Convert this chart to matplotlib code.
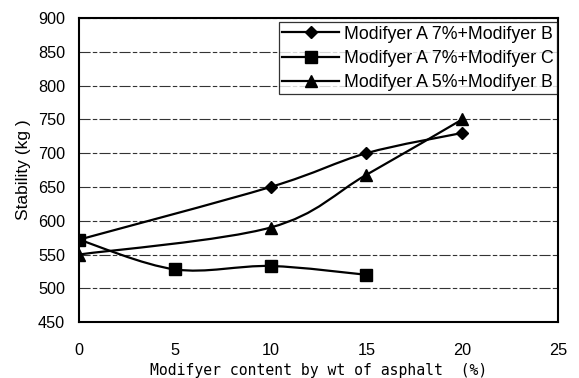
import numpy as np
import matplotlib.pyplot as plt
from matplotlib.path import Path
from matplotlib.patches import PathPatch

plt.rcParams['font.family'] = ['Liberation Sans', 'DejaVu Sans']

# values
x_b7 = [0, 10, 15, 20]
y_b7 = [572, 650, 700, 730]
x_c7 = [0, 5, 10, 15]
y_c7 = [572, 528, 533, 520]
x_b5 = [0, 10, 15, 20]
y_b5 = [550, 590, 668, 750]
labels = ['Modifyer A 7%+Modifyer B', 'Modifyer A 7%+Modifyer C', 'Modifyer A 5%+Modifyer B']
markers = ['D', 's', '^']
y_ticks = list(range(450, 901, 50))
x_ticks = list(range(0, 26, 5))


def smooth_path(xs, ys):
    # Excel-style smoothed line: cubic Bezier through each point
    p = np.column_stack([xs, ys]).astype(float)
    verts = [p[0]]
    codes = [Path.MOVETO]
    n = len(p)
    for i in range(n - 1):
        p0 = p[i - 1] if i > 0 else p[i]
        p3 = p[i + 2] if i + 2 < n else p[i + 1]
        c1 = p[i] + (p[i + 1] - p0) / 6
        c2 = p[i + 1] - (p3 - p[i]) / 6
        verts += [c1, c2, p[i + 1]]
        codes += [Path.CURVE4] * 3
    return Path(verts, codes)


fig = plt.figure(figsize=(5.79, 3.78), dpi=100)
ax = fig.add_axes([0.1364, 0.148, 0.8273, 0.804])

for xs, ys, m, lab in zip([x_b7, x_c7, x_b5], [y_b7, y_c7, y_b5], markers, labels):
    ax.add_patch(PathPatch(smooth_path(xs, ys), fill=False, color='black', lw=1.6, zorder=3))
    ms = 6.5 if m == 'D' else 8
    ax.plot(xs, ys, linestyle='none', marker=m, color='black', markersize=ms, zorder=4)
    ax.plot([], [], color='black', lw=1.6, marker=m, markersize=ms, label=lab)

ax.set_xlim(0, 25)
ax.set_ylim(450, 900)
ax.set_xticks(x_ticks)
ax.set_yticks(y_ticks)
ax.tick_params(length=0, labelsize=11.7)
ax.tick_params(axis='y', pad=10)
ax.tick_params(axis='x', pad=15)
ax.yaxis.grid(True, color='#333333', lw=0.8, linestyle=(0, (10, 2, 4, 2)))
for s in ax.spines.values():
    s.set_linewidth(1.5)

ax.set_xlabel('Modifyer content by wt of asphalt  (%)', fontsize=10.6,
              family='DejaVu Sans Mono', labelpad=4)
ax.set_ylabel('Stability (kg )', fontsize=12.5, labelpad=5)

leg = ax.legend(loc='upper right', bbox_to_anchor=(0.998, 0.987), fontsize=12.8,
                frameon=True, fancybox=False, edgecolor='black', handlelength=3.2,
                handletextpad=0.25, borderpad=0.2, labelspacing=0.4, borderaxespad=0)
leg.get_frame().set_linewidth(0.9)

plt.savefig('out.png', dpi=100)
